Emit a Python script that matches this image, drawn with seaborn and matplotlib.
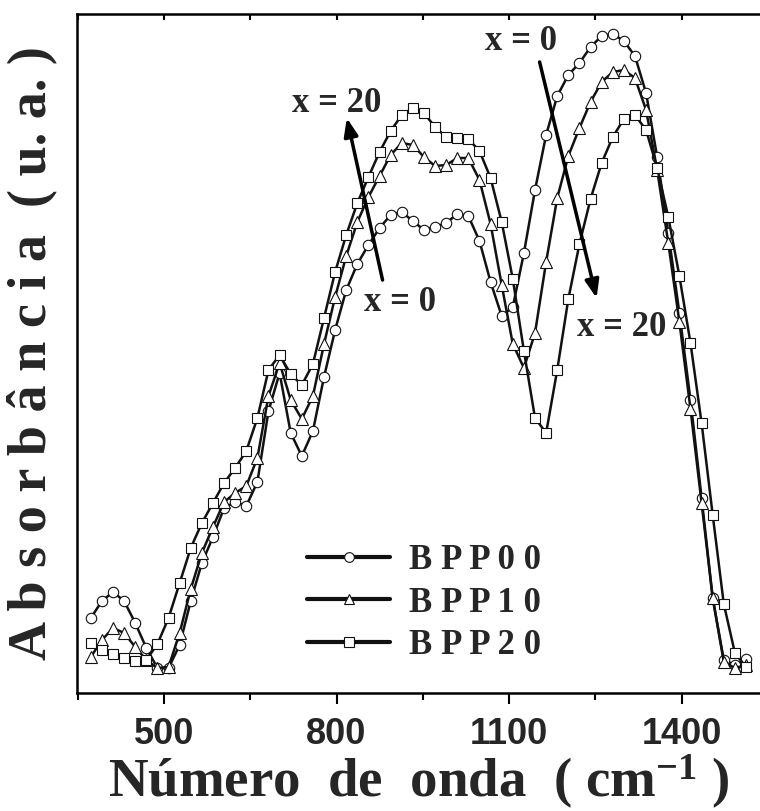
import numpy as np
import pandas as pd
import seaborn as sns
import matplotlib
matplotlib.use("Agg")
import matplotlib.pyplot as plt
from matplotlib.ticker import FixedLocator

# ---------------- data ----------------
wavenumber = [373.0, 392.3, 411.6, 430.9, 450.2, 469.5, 488.8, 508.1, 527.4, 546.7,
              566.0, 585.3, 604.6, 623.9, 643.2, 662.5, 681.8, 701.1, 720.4, 739.7,
              759.0, 778.3, 797.6, 816.9, 836.2, 855.5, 874.8, 894.1, 913.4, 932.7,
              952.0, 971.3, 990.6, 1009.9, 1029.2, 1048.5, 1067.8, 1087.1, 1106.4, 1125.7,
              1145.0, 1164.3, 1183.6, 1202.9, 1222.2, 1241.5, 1260.8, 1280.1, 1299.4, 1318.7,
              1338.0, 1357.3, 1376.6, 1395.9, 1415.2, 1434.5, 1453.8, 1473.1, 1492.4, 1511.7]

bpp00 = [75, 92, 101, 92, 70, 45, 25, 25, 48, 92,
         130, 156, 185, 191, 187, 211, 282, 320, 260, 237,
         262, 316, 363, 403, 429, 448, 465, 478, 481, 472,
         463, 466, 470, 479, 477, 452, 411, 377, 386, 440,
         503, 558, 597, 618, 630, 646, 657, 659, 652, 637,
         600, 536, 460, 380, 293, 195, 95, 33, 28, 34]

bpp10 = [36, 53, 65, 60, 46, 33, 25, 26, 60, 104,
         140, 166, 191, 200, 207, 235, 297, 330, 293, 274,
         297, 349, 396, 437, 471, 496, 517, 538, 550, 548,
         536, 527, 528, 535, 535, 513, 469, 408, 349, 325,
         360, 431, 495, 537, 565, 591, 611, 621, 623, 615,
         583, 523, 450, 371, 284, 190, 95, 31, 25, 28]

bpp20 = [50, 43, 39, 35, 32, 33, 49, 75, 110, 145,
         170, 190, 210, 225, 242, 275, 323, 338, 319, 308,
         329, 375, 421, 458, 490, 516, 541, 562, 578, 585,
         580, 566, 556, 555, 554, 542, 515, 471, 414, 342,
         275, 260, 323, 394, 449, 494, 530, 556, 574, 578,
         563, 525, 476, 417, 350, 270, 178, 89, 40, 26]

series_names = ["B P P 0 0", "B P P 1 0", "B P P 2 0"]
series_markers = ["o", "^", "s"]
major_ticks = [500, 800, 1100, 1400]
minor_ticks = [350, 650, 950, 1250]

# ---------------- figure ----------------
sns.set_theme(style="white")
plt.rcParams["font.family"] = ["Liberation Serif", "DejaVu Serif"]
plt.rcParams["mathtext.fontset"] = "custom"
plt.rcParams["mathtext.rm"] = "Liberation Serif:bold"
plt.rcParams["mathtext.bf"] = "Liberation Serif:bold"
plt.rcParams["mathtext.it"] = "Liberation Serif:bold"

fig = plt.figure(figsize=(7.6, 8.11), dpi=100)
ax = fig.add_axes([77 / 760, 1 - 693 / 811, 1 - 77 / 760, (693 - 14) / 811])

df = pd.DataFrame({
    "wavenumber": wavenumber * 3,
    "absorbance": bpp00 + bpp10 + bpp20,
    "amostra": [series_names[0]] * len(bpp00) + [series_names[1]] * len(bpp10)
               + [series_names[2]] * len(bpp20),
})

for name, mk in zip(series_names, series_markers):
    sub = df[df["amostra"] == name]
    sns.lineplot(data=sub, x="wavenumber", y="absorbance", ax=ax, color="#111111",
                 linewidth=1.8, marker=mk, markersize=7.5 if mk != "^" else 8,
                 markerfacecolor="white", markeredgecolor="#111111",
                 markeredgewidth=0.8, label=name, legend=False, sort=False,
                 errorbar=None, estimator=None)

ax.set_xlim(349, 1536)
ax.set_ylim(0, 679)

for s in ["left", "bottom", "top"]:
    ax.spines[s].set_color("black")
    ax.spines[s].set_linewidth(1.8)
ax.spines["right"].set_visible(False)

ax.xaxis.set_major_locator(FixedLocator(major_ticks))
ax.xaxis.set_minor_locator(FixedLocator(minor_ticks))
ax.tick_params(axis="x", which="major", bottom=True, top=True, direction="out",
               length=8, width=1.5, color="black", pad=9)
ax.tick_params(axis="x", which="minor", bottom=True, top=True, direction="out",
               length=5, width=1.5, color="black")
for t in ax.xaxis.get_major_ticks() + ax.xaxis.get_minor_ticks():
    t.tick2line.set_markersize(4)
    t.tick2line.set_marker(matplotlib.lines.TICKDOWN)
ax.set_yticks([])

for lab in ax.get_xticklabels():
    lab.set_fontfamily(["Liberation Sans Narrow", "Liberation Sans", "DejaVu Sans"])
    lab.set_fontweight("bold")
    lab.set_fontsize(26)

ax.set_xlabel(r"Número  de  onda  ( cm$^{\mathbf{-1}}$ )", fontsize=39.5,
              fontweight="bold", va="baseline")
ax.xaxis.set_label_coords(0.5, (693 - 797) / 679)
ax.set_ylabel("A b s o r b â n c i a  ( u. a. )", fontsize=39, fontweight="bold",
              va="center")
ax.yaxis.set_label_coords((32 - 77) / 683, 0.5)

# arrows and annotations
arrow_kw = dict(arrowstyle="-|>,head_length=0.9,head_width=0.35", lw=2.5,
                color="black", shrinkA=0, shrinkB=0)
ax.annotate("", xy=(818, 575), xytext=(880, 413), arrowprops=arrow_kw)
ax.annotate("", xy=(1252, 395), xytext=(1153, 631), arrowprops=arrow_kw)

txt_kw = dict(fontsize=25, fontweight="bold", ha="center", va="center")
ax.text(800, 590, "x = 20", **txt_kw)
ax.text(1120, 651, "x = 0", **txt_kw)
ax.text(910, 391, "x = 0", **txt_kw)
ax.text(1296, 366, "x = 20", **txt_kw)

leg = ax.legend(handles=ax.lines[:3], labels=series_names, loc="upper left",
                bbox_to_anchor=((293 - 77) / 683, (693 - 530) / 679),
                frameon=False, fontsize=25, handlelength=2.4, handletextpad=0.55,
                labelspacing=0.28, borderaxespad=0, numpoints=1)
for t in leg.get_texts():
    t.set_fontweight("bold")
for ln in leg.get_lines():
    ln.set_linewidth(3)
    ln.set_markersize(7)

fig.savefig("out.png", dpi=100)
